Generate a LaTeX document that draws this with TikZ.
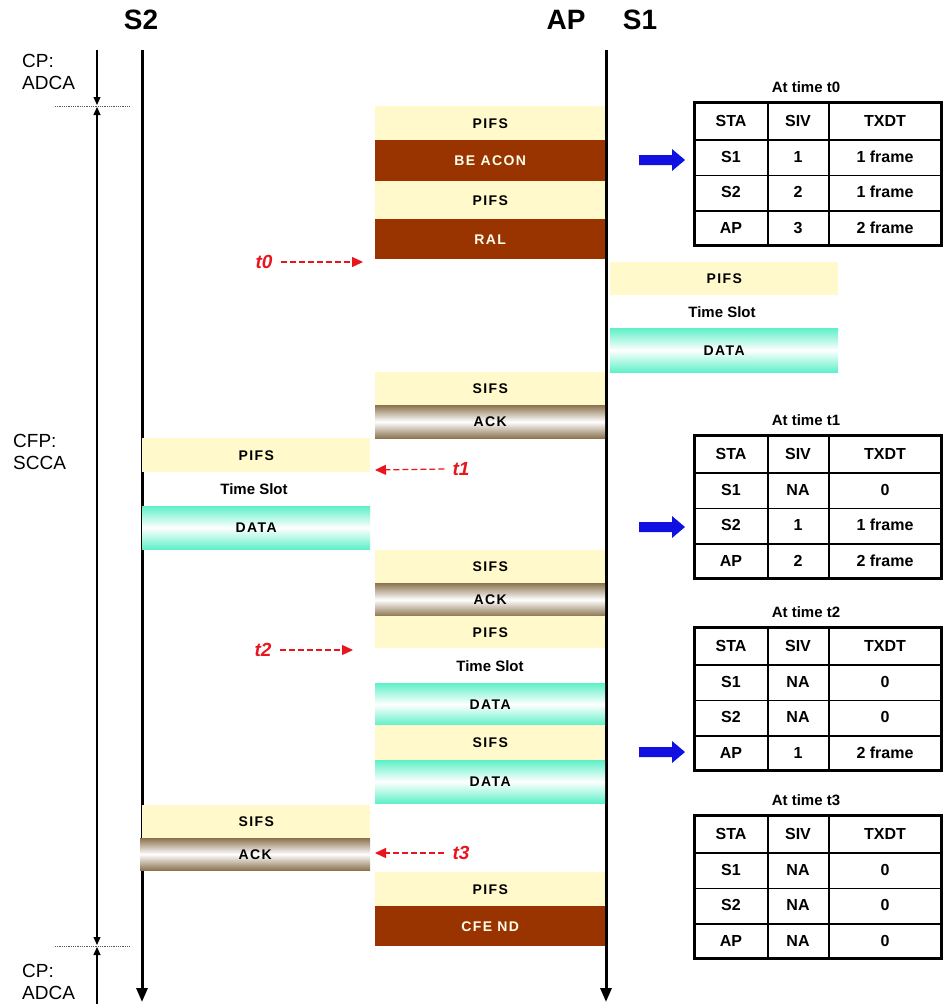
\documentclass[tikz,border=0pt]{standalone}
\usepackage{fontspec}
\setmainfont{Liberation Sans}
\newfontfamily\blkfont[LetterSpace=10]{Liberation Sans}
\usetikzlibrary{arrows.meta}
\definecolor{pifs}{HTML}{FFF9CC}
\definecolor{frm}{HTML}{993300}
\definecolor{aqua}{HTML}{5FF0C8}
\definecolor{ackbr}{HTML}{8C7350}
\definecolor{tred}{HTML}{E8141E}
\definecolor{barrow}{HTML}{1010E0}
\tikzset{
  blk/.style={inner sep=0pt, anchor=north west, font=\blkfont\bfseries\fontsize{14}{16}\selectfont},
  pifsbox/.style={blk, fill=pifs},
  frmbox/.style={blk, fill=frm, text=white!92!yellow},
  databox/.style={blk, top color=aqua, bottom color=aqua, middle color=white},
  ackbox/.style={blk, top color=ackbr, bottom color=ackbr, middle color=white},
  slottxt/.style={font=\bfseries\fontsize{15}{17}\selectfont, inner sep=0pt},
  head/.style={font=\bfseries\fontsize{28}{30}\selectfont, inner sep=0pt},
  period/.style={font=\fontsize{19}{22}\selectfont, align=left, inner sep=0pt, anchor=west},
  tline/.style={line width=3pt, -{Triangle[length=14pt,width=11pt]}},
  thin/.style={line width=1.2pt},
  tmark/.style={text=tred, font=\bfseries\itshape\fontsize{19}{21}\selectfont, inner sep=0pt},
  tarrow/.style={draw=tred, line width=1.2pt, dash pattern=on 6pt off 3pt, -{Triangle[length=11pt,width=10pt]}},
  ttitle/.style={font=\bfseries\fontsize{15}{17}\selectfont, inner sep=0pt},
  tcell/.style={font=\bfseries\fontsize{16}{18}\selectfont, inner sep=0pt},
  bluearrow/.style={fill=barrow, draw=none},
}
\newcommand{\blk}[7]{\node[#6, minimum width={(#3-#2)*1pt}, minimum height={(#5-#4)*1pt}] (#1) at (#2,#4) {#7};}
\newcommand{\stable}[4]{%
  \node[ttitle] (#1-title) at (806,#2-15) {#3};
  \foreach \a/\b/\c [count=\i from 0] in {STA/SIV/TXDT,#4} {
    \node[tcell] (#1-\i-a) at (731,#2+19+\i*35.5) {\a};
    \node[tcell] (#1-\i-b) at (798,#2+19+\i*35.5) {\b};
    \node[tcell] (#1-\i-c) at (885,#2+19+\i*35.5) {\c};
  }
  \draw[line width=1.3pt] (768,#2) -- (768,#2+143) (829,#2) -- (829,#2+143)
     (694,#2+38) -- (941,#2+38) (694,#2+73.5) -- (941,#2+73.5) (694,#2+109) -- (941,#2+109);
  \draw[line width=3pt] (694,#2) rectangle (941,#2+143);
}
\newcommand{\barrow}[2]{\fill[bluearrow] (639,#2-5) -- (672,#2-5) -- (672,#2-11) -- (685,#2) -- (672,#2+11) -- (672,#2+5) -- (639,#2+5) -- cycle;
  \coordinate (#1) at (685,#2);}
\begin{document}
\begin{tikzpicture}[x=1pt,y=-1pt]
\useasboundingbox (0,0) rectangle (943,1004);

% headings
\node[head] (hS2) at (141,20) {S2};
\node[head] (hAP) at (566,20) {AP};
\node[head] (hS1) at (640,20) {S1};

% time lines
\coordinate (s2top) at (142,50);
\coordinate (s2bot) at (142,1002);
\coordinate (aptop) at (606,50);
\coordinate (apbot) at (606,1002);
\draw[tline] (s2top) -- (s2bot);
\draw[tline] (aptop) -- (apbot);

% period markers
\coordinate (p0) at (97,50);
\coordinate (p1) at (97,105);
\coordinate (p2) at (97,107);
\coordinate (p3) at (97,945);
\coordinate (p4) at (97,947);
\coordinate (p5) at (97,1004);
\draw[thin, -{Triangle[length=8pt,width=7pt]}] (p0) -- (p1);
\draw[thin, {Triangle[length=8pt,width=7pt]}-{Triangle[length=8pt,width=7pt]}] (p2) -- (p3);
\draw[thin, -{Triangle[length=8pt,width=7pt]}] (p5) -- (p4);
\coordinate (d1a) at (55,106); \coordinate (d1b) at (129,106);
\coordinate (d2a) at (55,946); \coordinate (d2b) at (129,946);
\draw[densely dotted, line width=0.8pt, gray!70!black] (d1a) -- (d1b);
\draw[densely dotted, line width=0.8pt, gray!70!black] (d2a) -- (d2b);
\node[period] (cp1) at (22,72) {CP:\\ADCA};
\node[period] (cfp) at (13,452) {CFP:\\SCCA};
\node[period] (cp2) at (22,982) {CP:\\ADCA};

% AP column
\blk{ap1}{375}{605}{106}{140}{pifsbox}{PIFS}
\blk{ap2}{375}{605}{140}{181}{frmbox}{BE ACON}
\blk{ap3}{375}{605}{181}{219}{pifsbox}{PIFS}
\blk{ap4}{375}{605}{219}{259}{frmbox}{RAL}
% S1 column
\blk{s1a}{610}{838}{262}{295}{pifsbox}{PIFS}
\node[slottxt] (s1slot) at (722,312) {Time Slot};
\blk{s1b}{610}{838}{328}{372}{databox}{DATA}
% AP
\blk{ap5}{375}{605}{372}{405}{pifsbox}{SIFS}
\blk{ap6}{375}{605}{405}{438}{ackbox}{ACK}
% S2 column
\blk{s2a}{142}{370}{438}{472}{pifsbox}{PIFS}
\node[slottxt] (s2slot) at (254,489) {Time Slot};
\blk{s2b}{142}{370}{506}{549}{databox}{DATA}
% AP
\blk{ap7}{375}{605}{550}{583}{pifsbox}{SIFS}
\blk{ap8}{375}{605}{583}{616}{ackbox}{ACK}
\blk{ap9}{375}{605}{616}{648}{pifsbox}{PIFS}
\node[slottxt] (apslot) at (490,666) {Time Slot};
\blk{ap10}{375}{605}{683}{725}{databox}{DATA}
\blk{ap11}{375}{605}{725}{760}{pifsbox}{SIFS}
\blk{ap12}{375}{605}{760}{803}{databox}{DATA}
% S2
\blk{s2c}{142}{370}{805}{838}{pifsbox}{SIFS}
\blk{s2d}{140}{370}{838}{870}{ackbox}{ACK}
% AP
\blk{ap13}{375}{605}{872}{906}{pifsbox}{PIFS}
\blk{ap14}{375}{605}{906}{946}{frmbox}{CFE ND}

% time marks
\node[tmark] (t0) at (264,262) {t0};
\coordinate (t0e) at (363,262);
\draw[tarrow] (t0.east) ++(8,0) -- (t0e);
\node[tmark] (t1) at (461,469) {t1};
\coordinate (t1e) at (375,470);
\draw[tarrow] (t1.west) ++(-8,0) -- (t1e);
\node[tmark] (t2) at (263,650) {t2};
\coordinate (t2e) at (353,650);
\draw[tarrow] (t2.east) ++(8,0) -- (t2e);
\node[tmark] (t3) at (461,853) {t3};
\coordinate (t3e) at (375,853);
\draw[tarrow] (t3.west) ++(-8,0) -- (t3e);

% blue arrows
\barrow{b0}{160}
\barrow{b1}{527}
\barrow{b2}{752}

% tables
\stable{ta}{102}{At time t0}{S1/1/1 frame,S2/2/1 frame,AP/3/2 frame}
\stable{tb}{435}{At time t1}{S1/NA/0,S2/1/1 frame,AP/2/2 frame}
\stable{tc}{627}{At time t2}{S1/NA/0,S2/NA/0,AP/1/2 frame}
\stable{td}{815}{At time t3}{S1/NA/0,S2/NA/0,AP/NA/0}
\end{tikzpicture}
\end{document}
